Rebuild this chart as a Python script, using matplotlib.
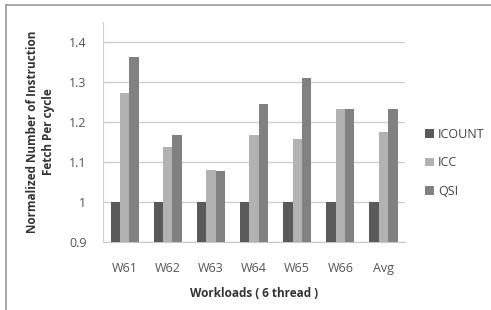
import matplotlib
matplotlib.use('Agg')
import matplotlib.pyplot as plt
import numpy as np
from matplotlib.lines import Line2D

plt.rcParams['font.family'] = ['Open Sans', 'DejaVu Sans']

workloads = ['W61', 'W62', 'W63', 'W64', 'W65', 'W66', 'Avg']
icount = [1.0, 1.0, 1.0, 1.0, 1.0, 1.0, 1.0]
icc = [1.272, 1.138, 1.079, 1.167, 1.157, 1.232, 1.174]
qsi = [1.363, 1.167, 1.077, 1.244, 1.311, 1.232, 1.232]

series = [('ICOUNT', icount, '#5a5a5a'),
          ('ICC', icc, '#b2b2b2'),
          ('QSI', qsi, '#818181')]

fig = plt.figure(figsize=(4.91, 3.10), dpi=100)
ax = fig.add_axes([0.21, 0.219, 0.615, 0.71])

x = np.arange(len(workloads))
w = 0.217
for i, (name, vals, col) in enumerate(series):
    ax.bar(x + (i - 1) * w, np.array(vals) - 0.9, w, bottom=0.9,
           color=col, label=name, zorder=3)

ax.set_xlim(-0.5, len(workloads) - 0.5)
ax.set_ylim(0.9, 1.45)
ax.set_yticks([0.9, 1.0, 1.1, 1.2, 1.3, 1.4])
ax.set_yticklabels(['0.9', '1', '1.1', '1.2', '1.3', '1.4'])
ax.set_xticks(x)
ax.set_xticklabels(workloads)
ax.yaxis.grid(True, color='#d0d0d0', linewidth=1, zorder=0)
ax.tick_params(length=0, labelsize=9, colors='#555555')
ax.tick_params(axis='y', pad=12)
ax.tick_params(axis='x', pad=14)
for s in ['top', 'right']:
    ax.spines[s].set_visible(False)
ax.spines['left'].set_color('#d0d0d0')
ax.spines['bottom'].set_color('#c8c8c8')

ax.set_ylabel('Normalized Number of Instruction\nFetch Per cycle',
              fontsize=8.5, fontweight='bold', color='#333333', labelpad=10,
              linespacing=1.3)
ax.set_xlabel('Workloads ( 6 thread )', fontsize=8.5, fontweight='bold',
              color='#333333', labelpad=9)

ax.legend(loc='center left', bbox_to_anchor=(1.03, 0.36), frameon=False,
          fontsize=9, handlelength=0.7, handleheight=0.7, handletextpad=0.3,
          labelspacing=1.25, labelcolor='#444444')

fig.add_artist(Line2D([0.012, 0.012], [0.0, 0.984], color='#999999', linewidth=1.2))
fig.add_artist(Line2D([0.012, 1.0], [0.984, 0.984], color='#999999', linewidth=1.2))

fig.savefig('out.png', dpi=100)
